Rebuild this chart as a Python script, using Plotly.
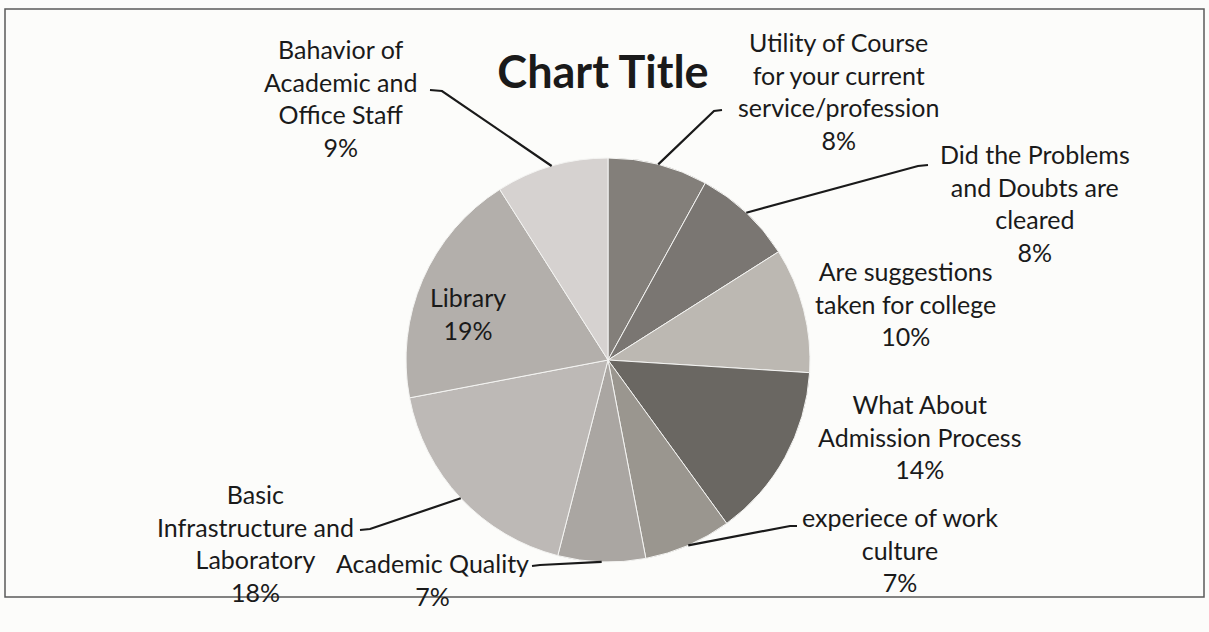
import math
import plotly.graph_objects as go

# ---- data ----
labels = [
    "Utility of Course for your current service/profession",
    "Did the Problems and Doubts are cleared",
    "Are suggestions taken for college",
    "What About Admission Process",
    "experiece of work culture",
    "Academic Quality",
    "Basic Infrastructure and Laboratory",
    "Library",
    "Bahavior of Academic and Office Staff",
]
display_labels = [
    "Utility of Course<br>for your current<br>service/profession",
    "Did the Problems<br>and Doubts are<br>cleared",
    "Are suggestions<br>taken for college",
    "What About<br>Admission Process",
    "experiece of work<br>culture",
    "Academic Quality",
    "Basic<br>Infrastructure and<br>Laboratory",
    "Library",
    "Bahavior of<br>Academic and<br>Office Staff",
]
values = [8, 8, 10, 14, 7, 7, 18, 19, 9]
colors = ["#837f7a", "#7a7672", "#bcb8b2", "#6a6762", "#9a968f",
          "#aaa6a2", "#bdb9b6", "#b3afab", "#d6d2d0"]

# ---- layout constants (pixels) ----
W, H = 1209, 632
cx, cy, R = 608, 360, 202
label_pos = [(838, 91), (1035, 203), (905, 303), (920, 436), (900, 549),
             (432, 579), (255, 543), (468, 313), (340, 98)]
# leader: (label end point, elbow point) or None
leaders = [((722, 110), (714, 111)), ((928, 165), (918, 166)), None, None,
           ((797, 526), (790, 526)), ((532, 566), (540, 565)),
           ((360, 530), (370, 529)), None, ((430, 90), (442, 91))]


def px(x, y):
    return x / W, 1 - y / H


fig = go.Figure(go.Pie(
    labels=labels, values=values, sort=False, direction="clockwise",
    rotation=0, textinfo="none", hoverinfo="label+percent",
    marker=dict(colors=colors, line=dict(color="#f4f4f2", width=1)),
    domain=dict(x=[(cx - R) / W, (cx + R) / W],
                y=[1 - (cy + R) / H, 1 - (cy - R) / H]),
    showlegend=False,
))

total = sum(values)
annotations = []
shapes = []
cum = 0
for i, v in enumerate(values):
    mid = (cum + v / 2) / total * 2 * math.pi
    cum += v
    pct = round(v / total * 100)
    lx, ly = label_pos[i]
    ax, ay = px(lx, ly)
    annotations.append(dict(
        x=ax, y=ay, xref="paper", yref="paper", showarrow=False,
        text=f"{display_labels[i]}<br>{pct}%", align="center",
        xanchor="center", yanchor="middle",
        font=dict(family="Lato", size=25, color="#1a1a1a"),
    ))
    if leaders[i] is not None:
        (ex, ey), (bx, by) = leaders[i]
        sx = cx + R * math.sin(mid)
        sy = cy - R * math.cos(mid)
        p0 = px(sx, sy)
        p1 = px(bx, by)
        p2 = px(ex, ey)
        shapes.append(dict(
            type="path", xref="paper", yref="paper",
            path=f"M {p0[0]} {p0[1]} L {p1[0]} {p1[1]} L {p2[0]} {p2[1]}",
            line=dict(color="#1a1a1a", width=2.2),
        ))

# chart frame
f0 = px(5, 9)
f1 = px(1204, 597)
shapes.append(dict(type="rect", xref="paper", yref="paper",
                   x0=f0[0], y0=f1[1], x1=f1[0], y1=f0[1],
                   line=dict(color="#5a5a5a", width=1.5)))

fig.update_layout(
    width=W, height=H,
    margin=dict(l=0, r=0, t=0, b=0),
    paper_bgcolor="#fcfcfa", plot_bgcolor="#fcfcfa",
    title=dict(text="<b>Chart Title</b>", x=603 / W, y=1 - 72 / H,
               xanchor="center", yanchor="middle",
               font=dict(family="Lato", size=45, color="#1a1a1a")),
    annotations=annotations, shapes=shapes,
)

fig.write_html(
    "out.html",
    config={"displayModeBar": False},
    post_script="document.body.style.margin='0';document.body.style.overflow='hidden';",
)
